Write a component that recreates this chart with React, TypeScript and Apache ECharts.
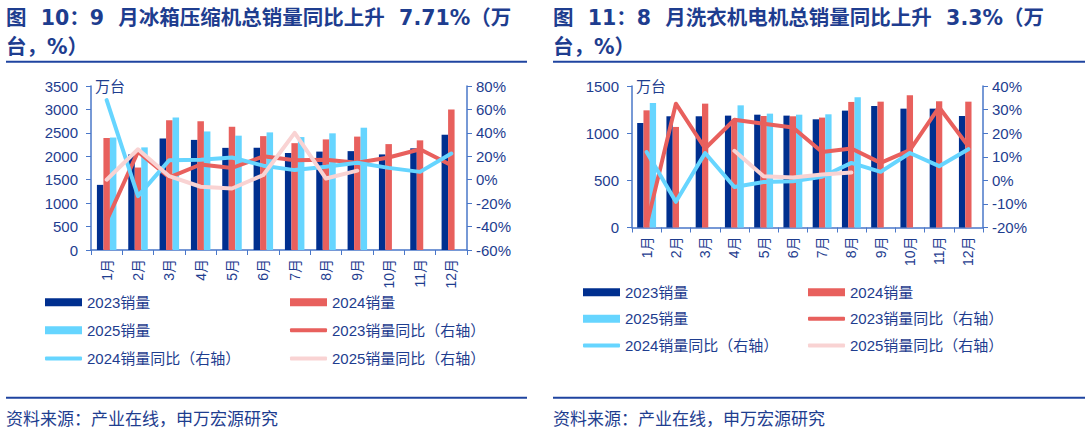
import React, { useEffect, useRef } from "react";
import * as echarts from "echarts";

// Months on the category axis
const months = ["1月", "2月", "3月", "4月", "5月", "6月", "7月", "8月", "9月", "10月", "11月", "12月"];

// Refrigerator compressor sales (万台) and YoY (%)
const fridge2023 = [1390, 2040, 2380, 2350, 2180, 2180, 2070, 2100, 2110, 2040, 2170, 2460];
const fridge2024 = [2390, 1760, 2770, 2750, 2630, 2430, 2280, 2360, 2420, 2260, 2340, 3000];
const fridge2025 = [2400, 2190, 2830, 2530, 2440, 2510, 2410, 2490, 2610, null, null, null];
const fridgeYoy2023 = [-35, 24, 2, 13, 10, 20, 16.7, 17, 14.4, 19, 26, 12.4];
const fridgeYoy2024 = [68, -14, 16.7, 17, 19, 12, 8.2, 11, 14.4, 10.1, 6.7, 22.4];
const fridgeYoy2025 = [0, 26, 3, -6, -7.5, 4, 40, 1, 7.71, null, null, null];

// Washing machine motor sales (万台) and YoY (%)
const washer2023 = [1108, 1179, 1179, 1186, 1196, 1186, 1147, 1239, 1288, 1260, 1260, 1182];
const washer2024 = [1242, 1066, 1313, 1140, 1182, 1179, 1165, 1331, 1334, 1401, 1338, 1334];
const washer2025 = [1320, null, null, 1295, 1207, 1196, 1200, 1380, null, null, null, null];
const washerYoy2023 = [-19, 32.5, 13.5, 25.7, 24, 22.4, 12, 13.5, 7.4, 12.8, 31, 14.4];
const washerYoy2024 = [12, -9.1, 11.6, -2.8, -0.7, -0.4, 1.5, 7.4, 3.6, 11.6, 6, 13.2];
const washerYoy2025 = [null, null, null, 12.5, 1.7, 1.2, 2.5, 3.3, null, null, null, null];

const titleLeft = "图  10：9  月冰箱压缩机总销量同比上升  7.71%（万\n台，%）";
const titleRight = "图  11：8  月洗衣机电机总销量同比上升  3.3%（万\n台，%）";
const sourceText = "资料来源：产业在线，申万宏源研究";

const NAVY = "#002F8F";
const RED = "#E8605D";
const CYAN = "#66D5FF";
const PINK = "#F9D3D3";
const TEXT = "#1E3D8F";
const AXIS = "#4A77C9";
const FONT = "'Liberation Sans', Arial, 'Noto Sans CJK SC', sans-serif";
const TITLE_FONT = "'DejaVu Sans', 'Noto Sans CJK SC', sans-serif";

const names = {
  s23: "2023销量",
  s24: "2024销量",
  s25: "2025销量",
  y23: "2023销量同比（右轴）",
  y24: "2024销量同比（右轴）",
  y25: "2025销量同比（右轴）",
};

function xAxisFor(gridIndex: number) {
  return {
    type: "category",
    gridIndex,
    data: months,
    axisLine: { lineStyle: { color: AXIS, width: 1.5 } },
    axisTick: { show: true, length: 5, lineStyle: { color: AXIS } },
    axisLabel: { rotate: 90, fontSize: 14, color: TEXT, margin: 9, fontFamily: FONT },
  };
}

function yAxisFor(gridIndex: number, min: number, max: number, interval: number, pct: boolean, withName: boolean) {
  return {
    type: "value",
    gridIndex,
    min,
    max,
    interval,
    position: pct ? "right" : "left",
    name: withName ? "万台" : "",
    nameLocation: "end",
    nameGap: 0,
    nameTextStyle: {
      color: TEXT,
      fontSize: 15,
      align: "left",
      verticalAlign: "middle",
      padding: [0, 0, 0, 4],
      fontFamily: FONT,
    },
    splitLine: { show: false },
    axisLine: { show: true, lineStyle: { color: AXIS, width: 1.5 } },
    axisTick: { show: true, length: 5, lineStyle: { color: AXIS } },
    axisLabel: {
      color: TEXT,
      fontSize: 15,
      margin: pct ? 9 : 13,
      fontFamily: FONT,
      formatter: (v: number) => (pct ? `${v}%` : `${v}`),
    },
  };
}

function barSeries(name: string, color: string, data: (number | null)[], xi: number, yi: number, w: number) {
  return {
    name,
    type: "bar",
    xAxisIndex: xi,
    yAxisIndex: yi,
    data,
    barWidth: w,
    barGap: "0%",
    itemStyle: { color },
    color,
    z: 2,
  };
}

function lineSeries(name: string, color: string, data: (number | null)[], xi: number, yi: number, z: number) {
  return {
    name,
    type: "line",
    xAxisIndex: xi,
    yAxisIndex: yi,
    data,
    symbol: "none",
    showSymbol: false,
    connectNulls: false,
    lineStyle: { color, width: 4, cap: "round", join: "round" },
    itemStyle: { color },
    color,
    z,
  };
}

function legendItem(name: string, left: number, rowCenter: number, isLine: boolean) {
  return {
    data: [name],
    left,
    top: rowCenter - 8,
    padding: 0,
    itemWidth: 37,
    itemHeight: isLine ? 4 : 8,
    icon: isLine ? "roundRect" : "rect",
    selectedMode: false,
    textStyle: { color: TEXT, fontSize: 15, fontFamily: FONT, padding: [0, 0, 0, 0] },
  };
}

function legendsFor(col1: number, col2: number, rows: number[]) {
  return [
    legendItem(names.s23, col1, rows[0], false),
    legendItem(names.s24, col2, rows[0], false),
    legendItem(names.s25, col1, rows[1], false),
    legendItem(names.y23, col2, rows[1], true),
    legendItem(names.y24, col1, rows[2], true),
    legendItem(names.y25, col2, rows[2], true),
  ];
}

function panelGraphics(x0: number, x1: number, title: string) {
  return [
    {
      type: "text",
      x: x0,
      y: 3,
      style: {
        text: title,
        fill: TEXT,
        fontSize: 20.5,
        fontWeight: "bold",
        fontFamily: TITLE_FONT,
        lineHeight: 29,
      },
    },
    {
      type: "line",
      shape: { x1: x0, y1: 61.7, x2: x1, y2: 61.7 },
      style: { stroke: "#1F44A0", lineWidth: 2 },
    },
    {
      type: "line",
      shape: { x1: x0, y1: 397.7, x2: x1, y2: 397.7 },
      style: { stroke: "#1F44A0", lineWidth: 2 },
    },
    {
      type: "text",
      x: x0,
      y: 419,
      style: {
        text: sourceText,
        fill: TEXT,
        fontSize: 17,
        fontFamily: FONT,
        verticalAlign: "middle",
      },
    },
  ];
}

export default function App() {
  const ref = useRef<HTMLDivElement>(null);

  useEffect(() => {
    if (!ref.current) return;
    const chart = echarts.init(ref.current, undefined, { renderer: "svg" });
    const option = {
      animation: false,
      backgroundColor: "#ffffff",
      textStyle: { fontFamily: FONT },
      grid: [
        { left: 91, top: 86, width: 376, height: 164 },
        { left: 632, top: 86, width: 351, height: 141.5 },
      ],
      xAxis: [xAxisFor(0), xAxisFor(1)],
      yAxis: [
        yAxisFor(0, 0, 3500, 500, false, true),
        yAxisFor(0, -60, 80, 20, true, false),
        yAxisFor(1, 0, 1500, 500, false, true),
        yAxisFor(1, -20, 40, 10, true, false),
      ],
      legend: [
        ...legendsFor(45, 290, [302.7, 330.7, 359]),
        ...legendsFor(583, 808, [292.7, 319.3, 346]),
      ],
      series: [
        barSeries(names.s23, NAVY, fridge2023, 0, 0, 6.5),
        barSeries(names.s24, RED, fridge2024, 0, 0, 6.5),
        barSeries(names.s25, CYAN, fridge2025, 0, 0, 6.5),
        lineSeries(names.y23, RED, fridgeYoy2023, 0, 1, 5),
        lineSeries(names.y24, CYAN, fridgeYoy2024, 0, 1, 6),
        lineSeries(names.y25, PINK, fridgeYoy2025, 0, 1, 7),
        barSeries(names.s23, NAVY, washer2023, 1, 2, 6.3),
        barSeries(names.s24, RED, washer2024, 1, 2, 6.3),
        barSeries(names.s25, CYAN, washer2025, 1, 2, 6.3),
        lineSeries(names.y23, RED, washerYoy2023, 1, 3, 5),
        lineSeries(names.y24, CYAN, washerYoy2024, 1, 3, 6),
        lineSeries(names.y25, PINK, washerYoy2025, 1, 3, 7),
      ],
      graphic: [...panelGraphics(6, 527, titleLeft), ...panelGraphics(553, 1085, titleRight)],
    };
    chart.setOption(option as any);
    return () => chart.dispose();
  }, []);

  return (
    <div
      ref={ref}
      style={{ position: "absolute", left: 0, top: 0, width: 1091, height: 433, background: "#fff" }}
    />
  );
}
